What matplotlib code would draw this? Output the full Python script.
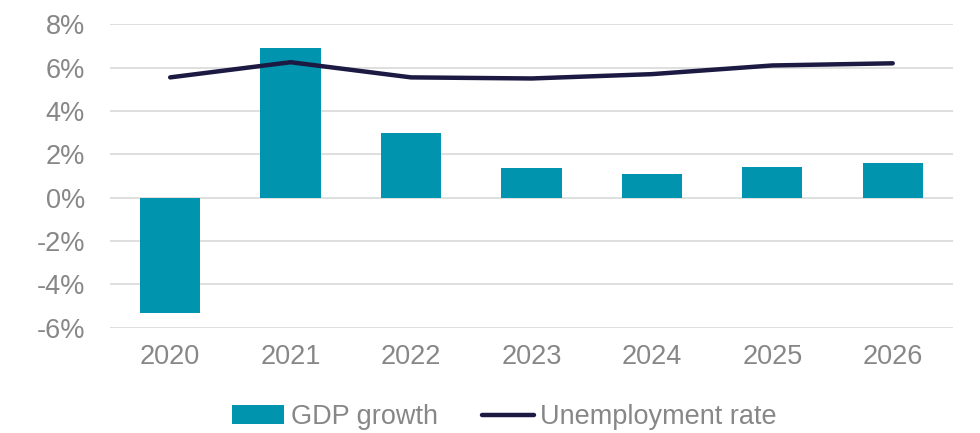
import matplotlib

matplotlib.use("Agg")
import matplotlib.pyplot as plt
from matplotlib.ticker import FuncFormatter

years = ["2020", "2021", "2022", "2023", "2024", "2025", "2026"]
gdp_growth = [-5.3, 6.9, 3.0, 1.35, 1.1, 1.4, 1.6]
unemployment = [5.55, 6.25, 5.55, 5.5, 5.7, 6.1, 6.2]

plt.rcParams["font.family"] = ["Liberation Sans", "DejaVu Sans"]
text_color = "#878787"

figure = plt.figure(figsize=(9.8, 4.33), dpi=100)
axis = figure.add_axes([0.1122, 0.2432, 0.8602, 0.7007])

positions = list(range(len(years)))
bars = axis.bar(positions, gdp_growth, width=0.5, color="#0094ae", label="GDP growth", zorder=2)
(line,) = axis.plot(positions, unemployment, color="#1c1a42", linewidth=3.2, solid_capstyle="round", label="Unemployment rate", zorder=3)

axis.set_xlim(-0.5, len(years) - 0.5)
axis.set_ylim(-6, 8)
axis.set_yticks(range(-6, 9, 2))
axis.yaxis.set_major_formatter(FuncFormatter(lambda value, _: f"{value:.0f}%"))
axis.set_xticks(positions, years)
axis.grid(True, axis="y", color="#d9d9d9", linewidth=1.2, zorder=0)
for spine in axis.spines.values():
    spine.set_visible(False)
axis.tick_params(axis="both", length=0, labelsize=19.5, labelcolor=text_color)
axis.tick_params(axis="y", pad=18)
axis.tick_params(axis="x", pad=12)

figure.legend(
    [bars, line],
    ["GDP growth", "Unemployment rate"],
    loc="center",
    bbox_to_anchor=(0.515, 0.036),
    ncol=2,
    frameon=False,
    fontsize=19.5,
    labelcolor=text_color,
    handlelength=1.9,
    handletextpad=0.25,
    columnspacing=1.65,
)

figure.savefig("out.png", dpi=100)
